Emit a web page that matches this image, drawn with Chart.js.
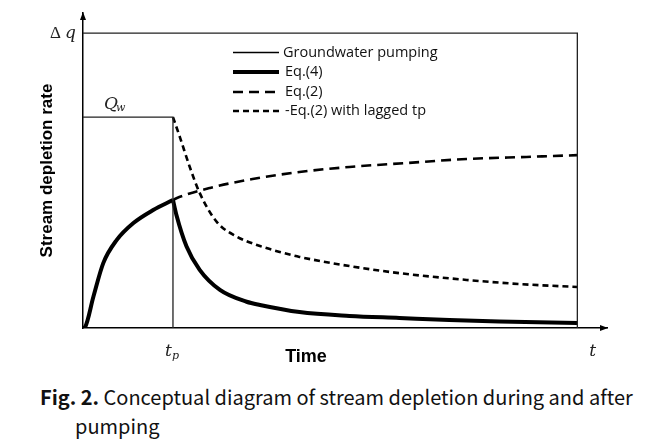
<!DOCTYPE html>
<html><head><meta charset="utf-8">
<script src="https://cdn.jsdelivr.net/npm/chart.js@4.4.1/dist/chart.umd.min.js"></script>
<style>
html,body{margin:0;padding:0;background:#fff;width:657px;height:446px;overflow:hidden}
#wrap{position:absolute;left:0;top:0;width:657px;height:375px}
#cap{position:absolute;left:40px;top:382px;font-family:"Noto Sans CJK KR","Noto Sans",sans-serif;font-size:20px;line-height:29px;color:#111;white-space:nowrap}
#cap .l2{padding-left:35px}
</style></head><body>
<div id="wrap"><canvas id="c" width="657" height="375"></canvas></div>
<div id="cap"><b>Fig. 2.</b> Conceptual diagram of stream depletion during and after<br><span class="l2">pumping</span></div>
<script>
// ---- data (time in % of plotted span, rate as fraction of Δq) ----
const tEnd = 100;
const deltaQ = 1;
const Qw = 0.715;
const tp = 18.2;

const xTitle = "Time";
const yTitle = "Stream depletion rate";
const legendLabels = ["Groundwater pumping", "Eq.(4)", "Eq.(2)", "-Eq.(2) with lagged tp"];

const eq4RiseT  = [0, 0.4, 2.1, 4.1, 6.8, 10.2, 14.2, 18.2];
const eq4RiseY  = [0, 0.003, 0.106, 0.22, 0.298, 0.356, 0.4, 0.434];

const eq4DecayT = [18.2, 18.9, 20.95, 23.6, 27.7, 33.1, 35.8, 43.8, 53.9, 64.0, 74.1, 84.2, 100];
const eq4DecayY = [0.434, 0.383, 0.276, 0.197, 0.129, 0.089, 0.078, 0.054, 0.041, 0.034, 0.027, 0.022, 0.017];

const eq2T = [18.2, 18.9, 25.7, 34.3, 43.8, 53.9, 65.1, 77.6, 89.7, 100];
const eq2Y = [0.434, 0.44, 0.475, 0.505, 0.529, 0.546, 0.559, 0.573, 0.58, 0.586];

const lagT = [18.2, 19.6, 21.6, 23.6, 27.1, 31.1, 35.8, 39.8, 43.8, 53.9, 64.0, 77.6, 88.3, 100];
const lagY = [0.715, 0.647, 0.546, 0.458, 0.359, 0.31, 0.278, 0.258, 0.241, 0.21, 0.186, 0.163, 0.149, 0.139];

const pts = (xs, ys) => xs.map((x, i) => ({x, y: ys[i]}));

const pumping = [{x: 0, y: Qw}, {x: tp, y: Qw}, {x: tp, y: 0}];
const frame = [{x: 0, y: deltaQ}, {x: tEnd, y: deltaQ}, {x: tEnd, y: 0}];

const styles = [
  {w: 1.3, dash: []},
  {w: 4, dash: []},
  {w: 2.6, dash: [10, 6]},
  {w: 2.6, dash: [6, 4]}
];

const decorPlugin = {
  id: 'decor',
  afterDraw(chart) {
    const ctx = chart.ctx;
    const xs = chart.scales.x, ys = chart.scales.y;
    const ca = chart.chartArea;
    ctx.save();
    ctx.fillStyle = '#000';
    // arrow heads
    ctx.beginPath();
    ctx.moveTo(ca.right + 1, ca.bottom);
    ctx.lineTo(ca.right - 7, ca.bottom - 3);
    ctx.lineTo(ca.right - 7, ca.bottom + 3);
    ctx.closePath(); ctx.fill();
    ctx.beginPath();
    ctx.moveTo(ca.left, ca.top - 1);
    ctx.lineTo(ca.left - 3, ca.top + 7);
    ctx.lineTo(ca.left + 3, ca.top + 7);
    ctx.closePath(); ctx.fill();

    // x axis title
    ctx.font = 'bold 18px "Liberation Sans", Arial, sans-serif';
    ctx.textAlign = 'center';
    ctx.textBaseline = 'middle';
    ctx.fillStyle = '#000';
    ctx.fillText(xTitle, 306, 357);

    // math labels
    const serifI = 'italic 17px "DejaVu Serif", "Liberation Serif", serif';
    const serifR = '17px "Liberation Serif", serif';
    const sub = 'italic 11px "DejaVu Serif", "Liberation Serif", serif';
    ctx.fillStyle = '#222';
    ctx.textBaseline = 'alphabetic';
    ctx.textAlign = 'left';
    // Δq
    const yq = ys.getPixelForValue(deltaQ);
    ctx.font = serifR; ctx.fillText('Δ', 50, yq + 5);
    ctx.font = serifI; ctx.fillText('q', 65, yq + 5);
    // Qw
    const yQ = ys.getPixelForValue(Qw);
    ctx.font = serifI; ctx.fillText('Q', 104, yQ - 8);
    ctx.font = sub; ctx.fillText('w', 116, yQ - 6);
    // tp
    const xtp = xs.getPixelForValue(tp);
    ctx.font = serifI; ctx.fillText('t', xtp - 8, 356);
    ctx.font = sub; ctx.fillText('p', xtp - 1, 359);
    // t
    const xt = xs.getPixelForValue(tEnd);
    ctx.font = serifI; ctx.fillText('t', xt + 12, 356);

    // legend
    const lx0 = 233, lx1 = 279, tx = 283;
    const rowsY = [52.5, 72, 92, 111];
    ctx.font = '14.5px "Open Sans", sans-serif';
    ctx.textBaseline = 'middle';
    for (let i = 0; i < 4; i++) {
      ctx.strokeStyle = '#000';
      ctx.lineWidth = styles[i].w;
      ctx.setLineDash(styles[i].dash);
      ctx.beginPath();
      ctx.moveTo(lx0, rowsY[i]); ctx.lineTo(lx1, rowsY[i]);
      ctx.stroke();
      ctx.setLineDash([]);
      ctx.fillStyle = '#111';
      ctx.fillText(legendLabels[i], tx + (i === 0 ? 0 : 2), rowsY[i]);
    }
    ctx.restore();
  }
};

const mk = (label, data, st, extra) => Object.assign({
  label, data,
  borderColor: '#000', backgroundColor: '#000',
  borderWidth: st.w, borderDash: st.dash,
  pointRadius: 0, fill: false, showLine: true,
  cubicInterpolationMode: 'monotone'
}, extra || {});

new Chart(document.getElementById('c'), {
  type: 'scatter',
  data: {
    datasets: [
      mk('frame', frame, {w: 1.3, dash: []}, {tension: 0, cubicInterpolationMode: 'default', borderColor: '#222'}),
      mk(legendLabels[0], pumping, styles[0], {tension: 0, cubicInterpolationMode: 'default', borderColor: '#222'}),
      mk(legendLabels[2], pts(eq2T, eq2Y), styles[2]),
      mk(legendLabels[3], pts(lagT, lagY), styles[3]),
      mk(legendLabels[1], pts(eq4RiseT, eq4RiseY), styles[1]),
      mk(legendLabels[1], pts(eq4DecayT, eq4DecayY), styles[1])
    ]
  },
  options: {
    responsive: false,
    animation: false,
    layout: {padding: {left: 0, right: 50, top: 13, bottom: 0}},
    plugins: {legend: {display: false}, tooltip: {enabled: false}},
    scales: {
      x: {
        type: 'linear', min: 0, max: 106,
        grid: {display: false},
        border: {display: true, color: '#000', width: 1.5},
        ticks: {display: false},
        title: {display: false},
        afterFit(s) { s.height = 47; }
      },
      y: {
        type: 'linear', min: 0, max: 1.068,
        grid: {display: false},
        border: {display: true, color: '#000', width: 1.5},
        ticks: {display: false},
        title: {display: true, text: yTitle, color: '#000',
                font: {family: '"Liberation Sans", Arial, sans-serif', size: 17, weight: 'bold'},
                padding: {top: 37, bottom: 0}},
        afterFit(s) { s.width = 83; }
      }
    }
  },
  plugins: [decorPlugin]
});
</script>
</body></html>
